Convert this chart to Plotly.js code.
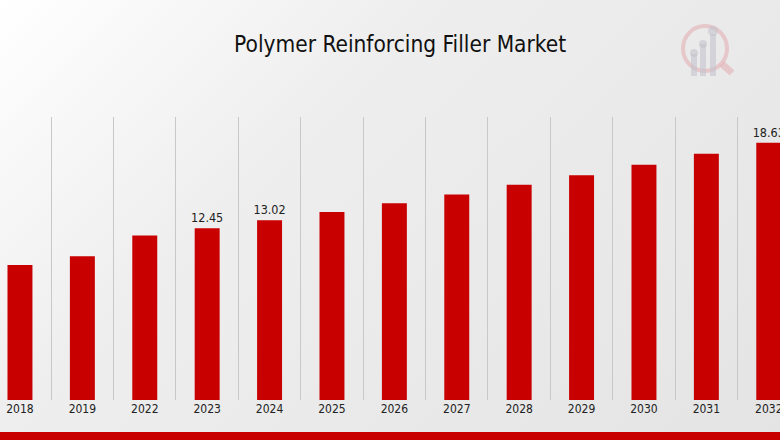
<!DOCTYPE html>
<html>
<head>
<meta charset="utf-8">
<script src="https://cdn.plot.ly/plotly-3.0.1.min.js"></script>
<style>
  html, body { margin: 0; padding: 0; }
  body { width: 780px; height: 440px; overflow: hidden;
         background: linear-gradient(135deg, #ffffff 0%, #eeeeee 35%, #e4e4e4 100%); }
  #chart { width: 780px; height: 440px; }
</style>
</head>
<body>
<div id="chart"></div>
<script>
const years = ["2018", "2019", "2022", "2023", "2024", "2025", "2026", "2027", "2028", "2029", "2030", "2031", "2032"];
const marketValues = [9.78, 10.41, 11.91, 12.45, 13.02, 13.62, 14.25, 14.88, 15.6, 16.28, 17.05, 17.83, 18.63];
const valueLabels = ["", "", "", "12.45", "13.02", "", "", "", "", "", "", "", "18.63"];
const chartTitle = "Polymer Reinforcing Filler Market";

const FONT = "'DejaVu Sans Condensed', 'DejaVu Sans', sans-serif";
const W = 780, plotTop = 117, plotBottom = 400, plotH = plotBottom - plotTop;
const px = x => x / W;
const py = y => (plotBottom - y) / plotH;

const trace = {
  type: "bar",
  x: years,
  y: marketValues,
  text: valueLabels,
  textposition: "outside",
  constraintext: "none",
  cliponaxis: false,
  textfont: { family: FONT, size: 12.5, color: "#222222" },
  marker: { color: "#c80000" },
  width: 0.4,
  hoverinfo: "x+y"
};

const ring = "rgba(225,170,175,0.55)";
const grey = "rgba(195,195,205,0.6)";

const layout = {
  width: 780,
  height: 440,
  margin: { l: 0, r: 0, t: plotTop, b: 440 - plotBottom },
  paper_bgcolor: "rgba(0,0,0,0)",
  plot_bgcolor: "rgba(0,0,0,0)",
  showlegend: false,
  title: {
    text: chartTitle,
    font: { family: FONT, size: 22.5, color: "#111111" },
    x: 0.513, xanchor: "center",
    y: 0.9, yanchor: "middle",
    yref: "container"
  },
  xaxis: {
    type: "category",
    range: [-0.32, 12.18],
    tickson: "boundaries",
    showgrid: true,
    gridcolor: "#c8c8c8",
    gridwidth: 1,
    ticks: "",
    showline: false,
    zeroline: false,
    tickfont: { family: FONT, size: 12, color: "#222222" },
    fixedrange: true
  },
  yaxis: {
    range: [0, 20.5],
    showgrid: false,
    showticklabels: false,
    zeroline: false,
    showline: false,
    fixedrange: true
  },
  shapes: [
    { type: "rect", xref: "paper", yref: "paper",
      x0: 0, x1: 1, y0: py(432), y1: py(441),
      fillcolor: "#c80000", line: { width: 0 }, layer: "above" },
    { type: "line", xref: "paper", yref: "paper",
      x0: px(722), x1: px(732), y0: py(64), y1: py(73),
      line: { color: ring, width: 7 } },
    { type: "circle", xref: "paper", yref: "paper",
      x0: px(683), x1: px(727), y0: py(71), y1: py(26),
      line: { color: ring, width: 4 }, fillcolor: "rgba(0,0,0,0)" },
    { type: "rect", xref: "paper", yref: "paper",
      x0: px(691), x1: px(697), y0: py(76), y1: py(54),
      fillcolor: grey, line: { width: 0 } },
    { type: "circle", xref: "paper", yref: "paper",
      x0: px(690), x1: px(698), y0: py(57), y1: py(49),
      fillcolor: grey, line: { width: 0 } },
    { type: "rect", xref: "paper", yref: "paper",
      x0: px(700), x1: px(706), y0: py(76), y1: py(44),
      fillcolor: grey, line: { width: 0 } },
    { type: "circle", xref: "paper", yref: "paper",
      x0: px(699), x1: px(707), y0: py(48), y1: py(40),
      fillcolor: grey, line: { width: 0 } },
    { type: "rect", xref: "paper", yref: "paper",
      x0: px(710), x1: px(716), y0: py(76), y1: py(34),
      fillcolor: grey, line: { width: 0 } },
    { type: "circle", xref: "paper", yref: "paper",
      x0: px(708), x1: px(718), y0: py(36), y1: py(26),
      fillcolor: grey, line: { width: 0 } }
  ]
};

Plotly.newPlot("chart", [trace], layout, { staticPlot: true, displayModeBar: false });
</script>
</body>
</html>
